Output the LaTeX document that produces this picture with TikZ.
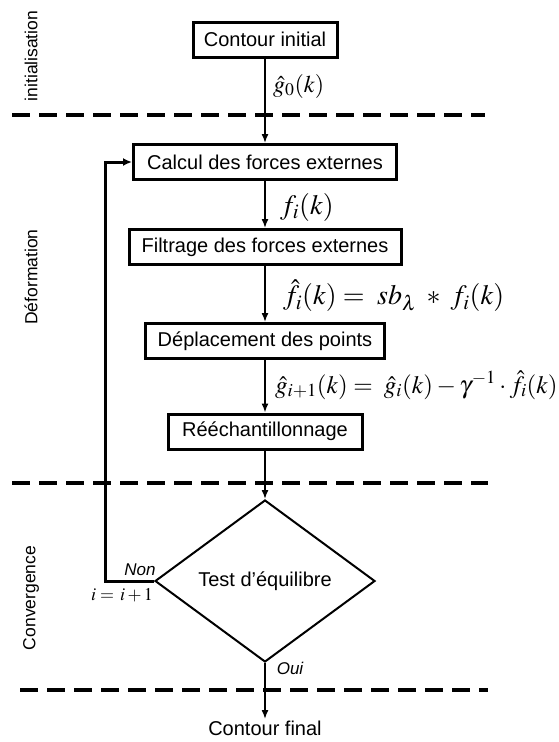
\documentclass[tikz,border=0pt]{standalone}
\usepackage{mathptmx}
\usepackage[no-math]{fontspec}
\setmainfont{Liberation Sans}
\usetikzlibrary{arrows.meta,shapes.geometric}
\begin{document}
\begin{tikzpicture}[x=1pt,y=-1pt,
  box/.style={draw, line width=3pt, minimum height=35pt, inner sep=0pt, font=\fontsize{20}{24}\selectfont},
  flow/.style={line width=1.5pt, -{Latex[length=9pt,width=7pt]}},
  back/.style={line width=3pt, -{Latex[length=9pt,width=8pt]}},
  sep/.style={line width=3.5pt, dash pattern=on 18pt off 9pt},
  side/.style={rotate=90, inner sep=0pt, font=\fontsize{17.5}{20}\selectfont},
  eq/.style={anchor=west, inner sep=0pt, font=\fontsize{24}{28}\selectfont},
  lab/.style={inner sep=0pt, font=\fontsize{17}{20}\selectfont\itshape}]
\useasboundingbox (0,0) rectangle (558,742);
% separators
\coordinate (s1a) at (12,115); \coordinate (s1b) at (485,115);
\coordinate (s2a) at (12,483); \coordinate (s2b) at (488,483);
\coordinate (s3a) at (20,690); \coordinate (s3b) at (488,690);
\draw[sep] (s1a) -- (s1b);
\draw[sep] (s2a) -- (s2b);
\draw[sep] (s3a) -- (s3b);
% side labels
\node[side] (lini) at (31,56) {initialisation};
\node[side] (ldef) at (31,277) {Déformation};
\node[side] (lcon) at (31,598) {Convergence};
% nodes
\node[box, minimum width=144pt] (init) at (265,39.5) {Contour initial};
\node[box, minimum width=263pt] (calc) at (265,162) {Calcul des forces externes};
\node[box, minimum width=272pt] (filt) at (265,247) {Filtrage des forces externes};
\node[box, minimum width=239pt] (depl) at (265,341) {Déplacement des points};
\node[box, minimum width=194pt] (reech) at (265,431.5) {Rééchantillonnage};
\node[diamond, draw, line width=2pt, minimum width=220pt, minimum height=162pt, inner sep=0pt, font=\fontsize{20}{24}\selectfont] (test) at (265,581) {Test d’équilibre};
\node[anchor=north, inner sep=0pt, font=\fontsize{20}{24}\selectfont] (final) at (265,721) {Contour final};
% connectors
\draw[flow] (init.south) -- (calc.north);
\draw[flow] (calc.south) -- (filt.north);
\draw[flow] (filt.south) -- (depl.north);
\draw[flow] (depl.south) -- (reech.north);
\draw[flow] (reech.south) -- (test.north);
\draw[flow, shorten >=2pt] (test.south) -- (final.north);
\draw[back] (test.west) -- ++(-49,0) |- (calc.west);
% labels
\node[eq] (l0) at (273,86) {$\hat{g}_0(k)$};
\node[eq, font=\fontsize{28}{32}\selectfont] (l1) at (280,207) {$f_i(k)$};
\node[eq, font=\fontsize{28}{32}\selectfont] (l2) at (283,296) {$\hat{f}_i(k) =\; sb_\lambda \;*\; f_i(k)$};
\node[eq, font=\fontsize{25}{29}\selectfont] (l3) at (275,385) {$\hat{g}_{i+1}(k) =\; \hat{g}_i(k) - \gamma^{-1}\cdot\hat{f}_i(k)$};
\node[lab] (lnon) at (140,570) {Non};
\node[lab] (loui) at (290,668) {Oui};
\node[inner sep=0pt, font=\fontsize{18}{22}\selectfont] (linc) at (122,595) {$i =\, i+1$};
\end{tikzpicture}
\end{document}
